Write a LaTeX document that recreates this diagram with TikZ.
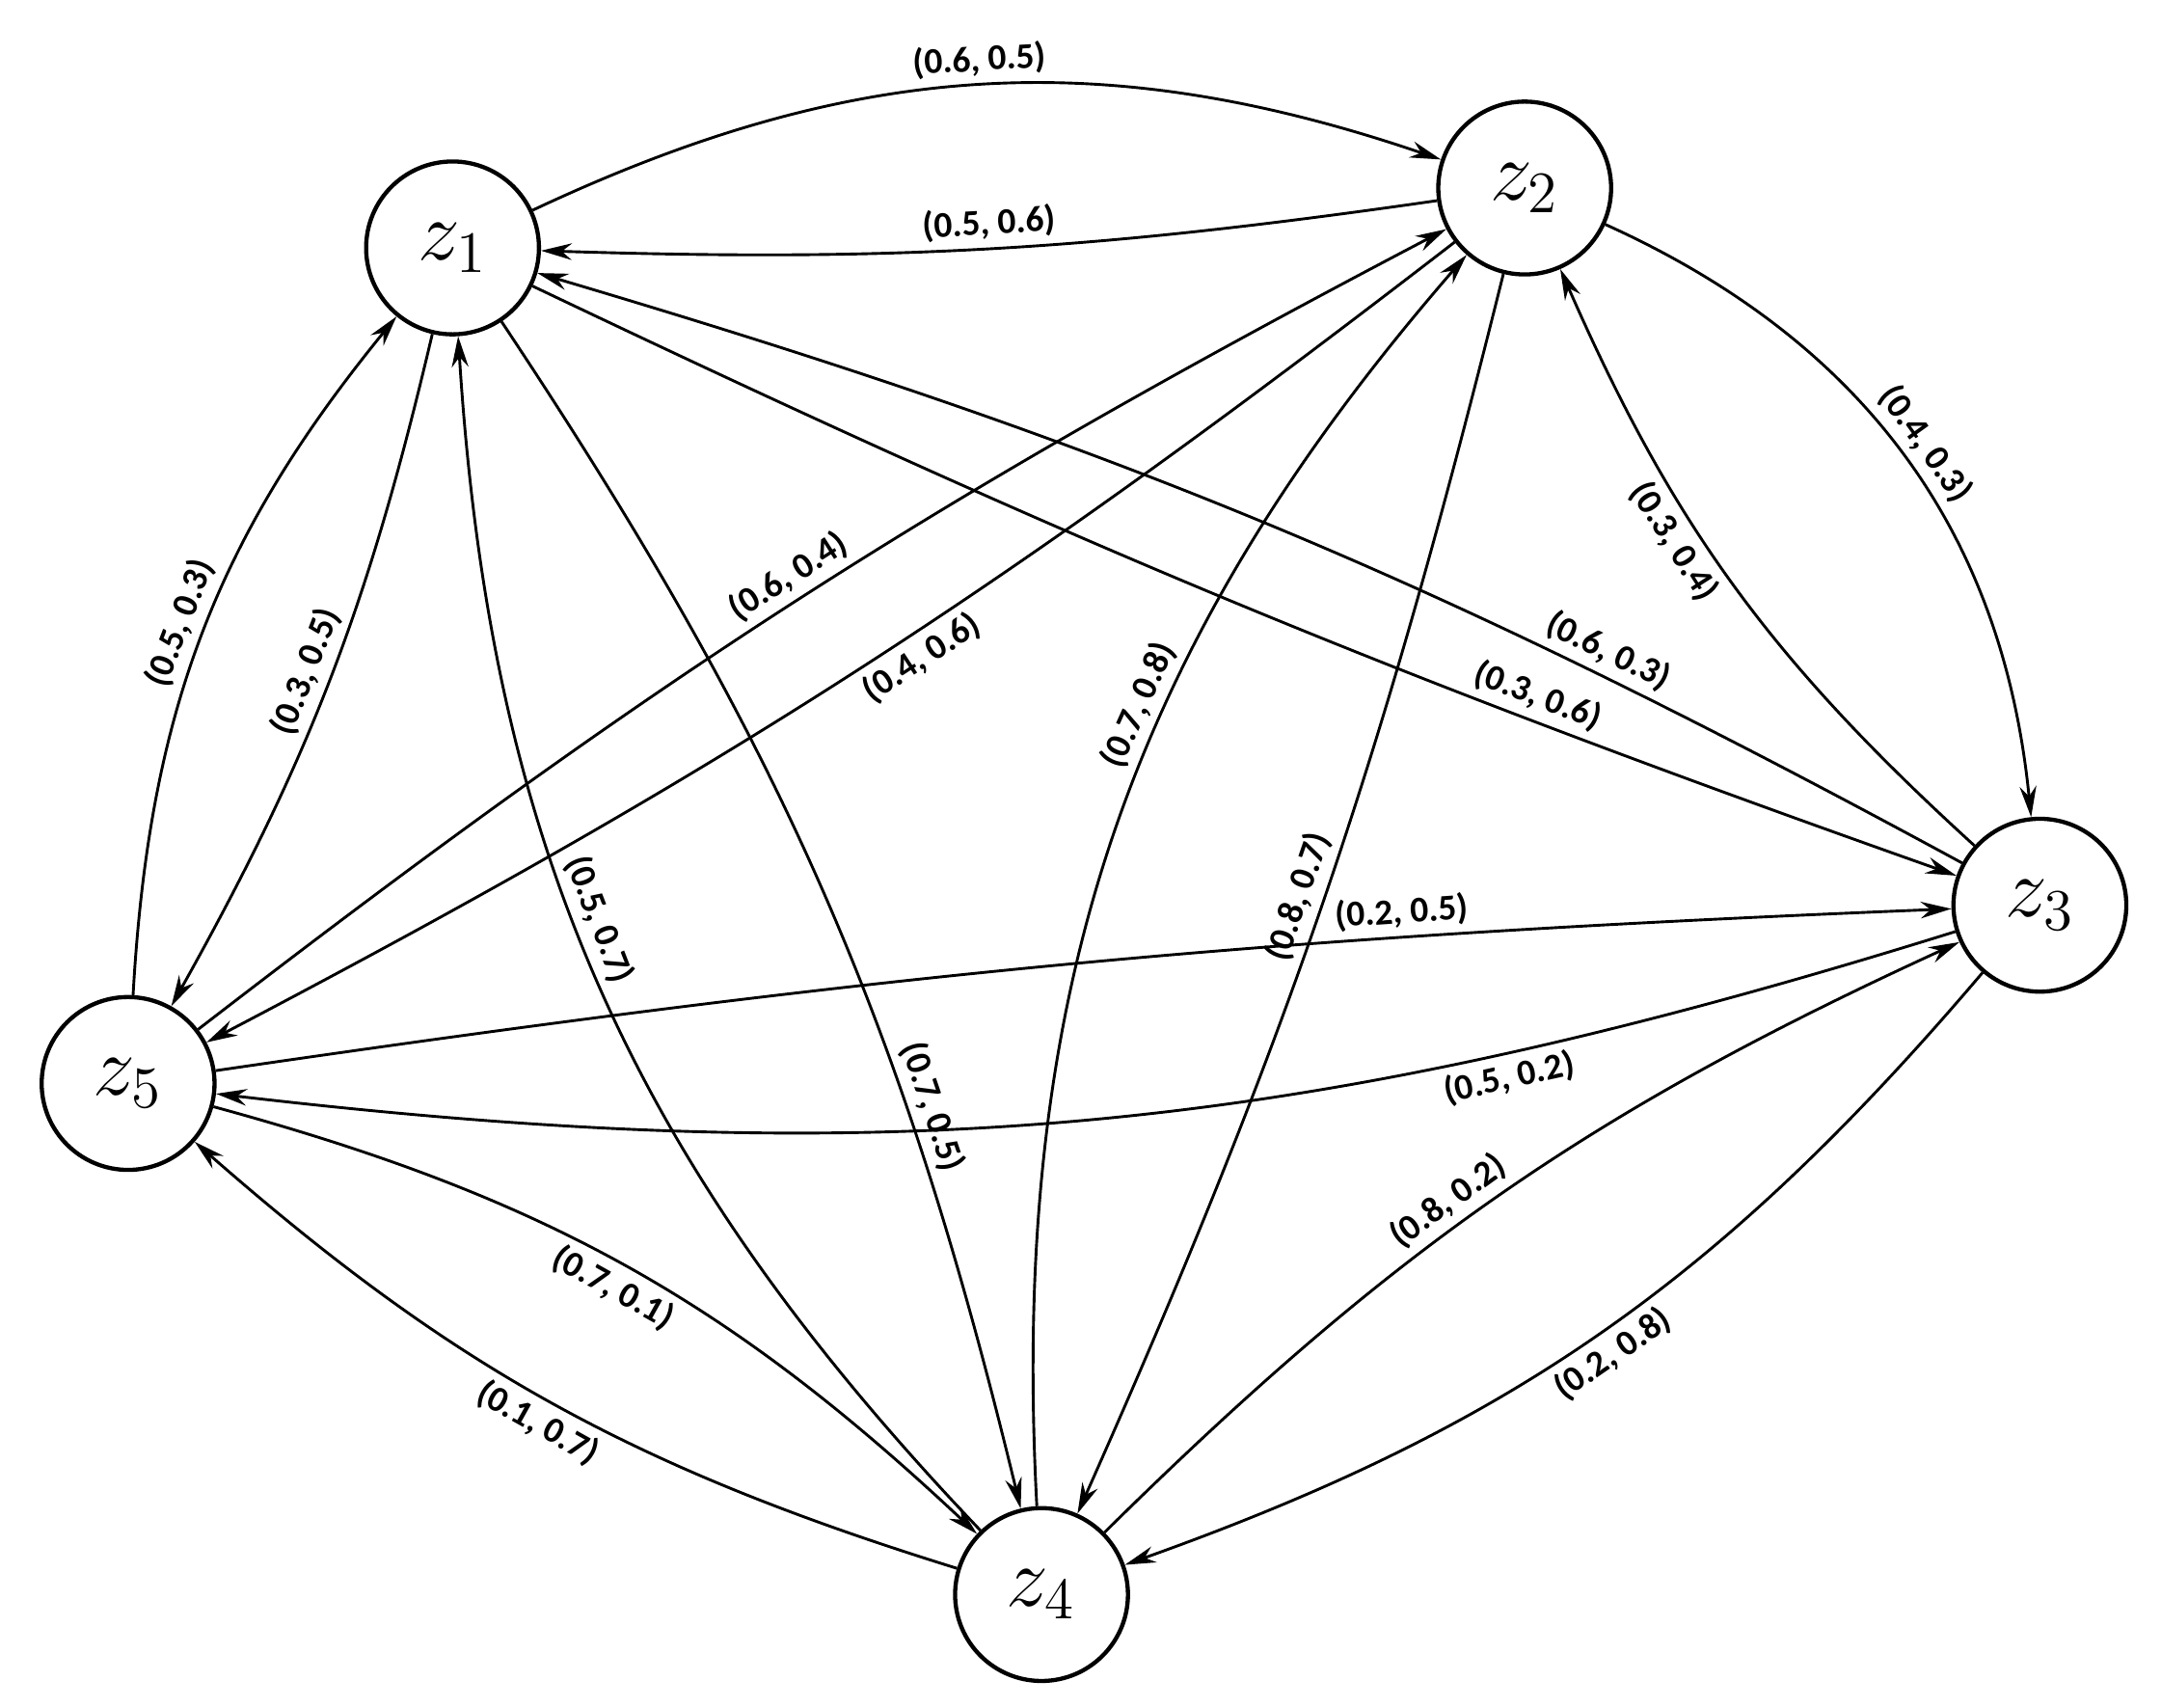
\documentclass[tikz,border=0pt]{standalone}
\usepackage{fontspec}
\newfontfamily\lab{Carlito}
\usetikzlibrary{arrows.meta}
\begin{document}
\begin{tikzpicture}[x=0.01cm,y=-0.01cm,
 vtx/.style={circle,draw,line width=0.85pt,minimum size=35.3pt,inner sep=0pt,font=\fontsize{17}{17}\selectfont},
 ed/.style={line width=0.57pt,-{Stealth[length=6.3pt,width=3.4pt]}},
 lb/.style={font=\lab\bfseries\fontsize{7.4}{7.4}\selectfont,sloped,inner sep=1.5pt}]
\useasboundingbox (0,0) rectangle (1552,1226);
\node[vtx] (z1) at (325,178) {$z_1$};
\node[vtx] (z2) at (1095,135) {$z_2$};
\node[vtx] (z3) at (1465,650) {$z_3$};
\node[vtx] (z4) at (748,1145) {$z_4$};
\node[vtx] (z5) at (92,778) {$z_5$};
% z1-z2
\draw[ed] (z1) to[bend left=22] node[lb,above]{(0.6, 0.5)} (z2);
\draw[ed] (z2) to[bend left=5] node[lb,above]{(0.5, 0.6)} (z1);
% z2-z3
\draw[ed] (z2) to[bend left=30] node[lb,above]{(0.4, 0.3)} (z3);
\draw[ed] (z3) to[bend left=12] node[lb,below,pos=0.6]{(0.3, 0.4)} (z2);
% z1-z3
\draw[ed] (z1) to[bend right=3] node[lb,above,pos=0.72]{(0.3, 0.6)} (z3);
\draw[ed] (z3) to[bend right=6] node[lb,above,pos=0.25]{(0.6, 0.3)} (z1);
% z2-z5
\draw[ed] (z5) to[bend left=5] node[lb,above,pos=0.5]{(0.6, 0.4)} (z2);
\draw[ed] (z2) to[bend left=5] node[lb,below,pos=0.45]{(0.4, 0.6)} (z5);
% z2-z4
\draw[ed] (z4) to[bend left=22] node[lb,above,pos=0.6]{(0.7, 0.8)} (z2);
\draw[ed] (z2) to[bend left=5] node[lb,above,pos=0.5]{(0.8, 0.7)} (z4);
% z1-z4
\draw[ed] (z4) to[bend left=20] node[lb,above,pos=0.55]{(0.5, 0.7)} (z1);
\draw[ed] (z1) to[bend left=10] node[lb,above,pos=0.7]{(0.7, 0.5)} (z4);
% z1-z5
\draw[ed] (z5) to[bend left=18] node[lb,above]{(0.5, 0.3)} (z1);
\draw[ed] (z1) to[bend left=8] node[lb,above]{(0.3, 0.5)} (z5);
% z3-z5
\draw[ed] (z5) to[bend left=3] node[lb,above,pos=0.7]{(0.2, 0.5)} (z3);
\draw[ed] (z3) to[bend left=12] node[lb,below,pos=0.25]{(0.5, 0.2)} (z5);
% z5-z4
\draw[ed] (z5) to[bend left=14] node[lb,below,pos=0.5]{(0.7, 0.1)} (z4);
\draw[ed] (z4) to[bend left=12] node[lb,below,pos=0.5]{(0.1, 0.7)} (z5);
% z3-z4
\draw[ed] (z4) to[bend left=10] node[lb,above,pos=0.45]{(0.8, 0.2)} (z3);
\draw[ed] (z3) to[bend left=15] node[lb,below,pos=0.5]{(0.2, 0.8)} (z4);
\end{tikzpicture}
\end{document}
